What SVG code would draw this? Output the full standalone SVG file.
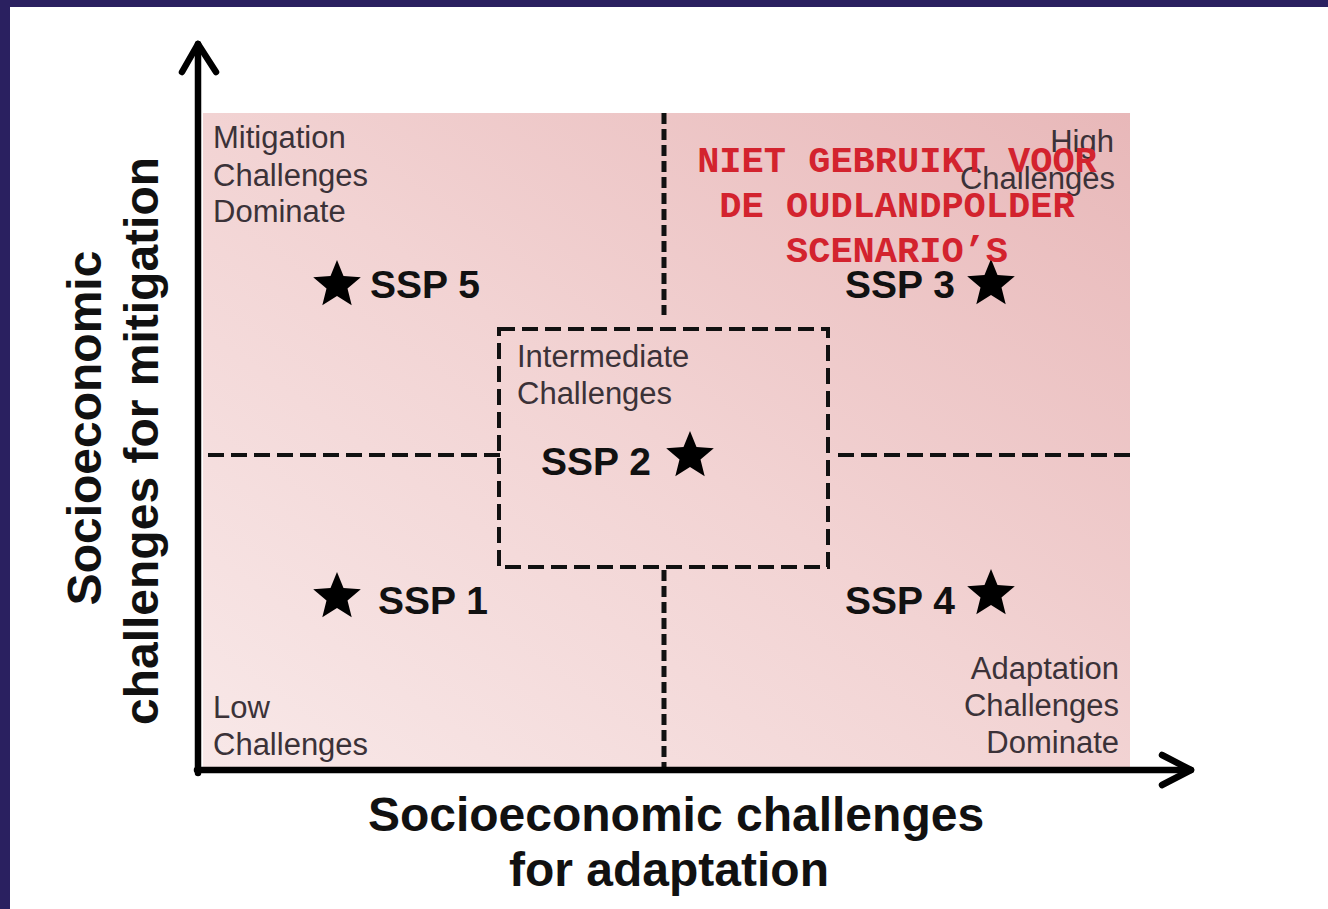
<svg xmlns="http://www.w3.org/2000/svg" width="1328" height="909" viewBox="0 0 1328 909">
<style>
.lbl{font-family:"Liberation Sans",Arial,sans-serif;font-size:31px;fill:#3b3238}
.ssp{font-family:"Liberation Sans",Arial,sans-serif;font-size:39px;font-weight:bold;fill:#111}
.axl{font-family:"Liberation Sans",Arial,sans-serif;font-size:48px;font-weight:bold;fill:#111;text-anchor:middle}
.red{font-family:"Liberation Mono","Courier New",monospace;font-size:37px;font-weight:bold;fill:#d3232e;text-anchor:middle}
.dash{stroke:#111;stroke-width:4;fill:none}
.vdash{stroke:#111;stroke-width:5;fill:none}
.axis{stroke:#000;stroke-width:6.5;fill:none;stroke-linecap:round;stroke-linejoin:round}
.end{text-anchor:end}
</style>
<defs>
<linearGradient id="bg" x1="0" y1="1" x2="1" y2="0">
<stop offset="0" stop-color="#f8e8e8"/>
<stop offset="0.5" stop-color="#f2d3d3"/>
<stop offset="1" stop-color="#e8b8b9"/>
</linearGradient>
<path id="star" d="M0,-25 L6.5,-8.9 L23.8,-7.7 L10.5,3.4 L14.7,20.2 L0,11 L-14.7,20.2 L-10.5,3.4 L-23.8,-7.7 L-6.5,-8.9 Z" fill="#000"/>
</defs>
<rect x="0" y="0" width="1328" height="909" fill="#ffffff"/>
<rect x="0" y="0" width="1328" height="7" fill="#2a2060"/>
<rect x="0" y="0" width="10" height="909" fill="#2a2060"/>
<g id="quadrant-bg">
<rect x="203" y="113" width="927" height="658" fill="url(#bg)"/>
</g>
<g id="connectors">
<path class="vdash" d="M664,113 V315" stroke-dasharray="11 5"/>
<path class="vdash" d="M664,570 V770" stroke-dasharray="11 5"/>
<path class="dash" d="M208,455 H500" stroke-dasharray="16 7"/>
<path class="dash" d="M838,455 H1133" stroke-dasharray="16 7"/>
<path class="axis" d="M198,773 V44"/>
<path class="axis" d="M182,72 L198,44 L216,72"/>
<path class="axis" d="M197,770 H1191"/>
<path class="axis" d="M1162,755 L1191,770 L1162,785"/>
</g>
<g id="intermediate-box">
<rect class="dash" x="499" y="329" width="329" height="238" stroke-dasharray="16 7"/>
<text class="lbl" x="517" y="367">Intermediate</text>
<text class="lbl" x="517" y="404">Challenges</text>
</g>
<g id="q-mitigation">
<text class="lbl" x="213" y="148">Mitigation</text>
<text class="lbl" x="213" y="186">Challenges</text>
<text class="lbl" x="213" y="222">Dominate</text>
</g>
<g id="q-high">
<text class="lbl end" x="1114" y="152">High</text>
<text class="lbl end" x="1115" y="189">Challenges</text>
</g>
<g id="q-low">
<text class="lbl" x="213" y="718">Low</text>
<text class="lbl" x="213" y="755">Challenges</text>
</g>
<g id="q-adaptation">
<text class="lbl end" x="1119" y="679">Adaptation</text>
<text class="lbl end" x="1119" y="716">Challenges</text>
<text class="lbl end" x="1119" y="753">Dominate</text>
</g>
<g id="ssp5">
<use href="#star" x="337" y="285"/>
<text class="ssp" x="370" y="298">SSP 5</text>
</g>
<g id="ssp3">
<text class="ssp" x="845" y="298">SSP 3</text>
<use href="#star" x="991" y="284"/>
</g>
<g id="ssp2">
<text class="ssp" x="541" y="475">SSP 2</text>
<use href="#star" x="690" y="456"/>
</g>
<g id="ssp1">
<use href="#star" x="337" y="597"/>
<text class="ssp" x="378" y="614">SSP 1</text>
</g>
<g id="ssp4">
<text class="ssp" x="845" y="614">SSP 4</text>
<use href="#star" x="991" y="594"/>
</g>
<g id="x-label">
<text class="axl" x="676" y="831">Socioeconomic challenges</text>
<text class="axl" x="669" y="886">for adaptation</text>
</g>
<g id="y-label">
<text class="axl" transform="translate(101,428) rotate(-90)">Socioeconomic</text>
<text class="axl" transform="translate(158,441) rotate(-90)">challenges for mitigation</text>
</g>
<g id="overlay-note">
<text class="red" x="897" y="172">NIET GEBRUIKT VOOR</text>
<text class="red" x="897" y="217">DE OUDLANDPOLDER</text>
<text class="red" x="897" y="262">SCENARIO’S</text>
</g>
</svg>
